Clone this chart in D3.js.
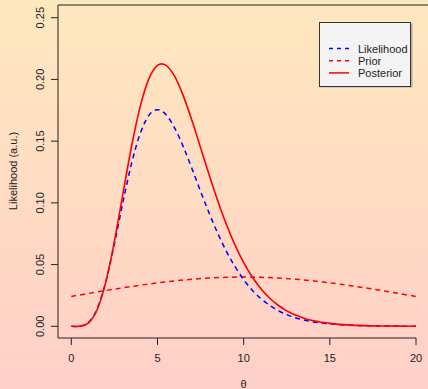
<!DOCTYPE html>
<html><head><meta charset="utf-8">
<script src="https://cdn.jsdelivr.net/npm/d3@7"></script>
<style>html,body{margin:0;padding:0;overflow:hidden;}svg{display:block;}</style>
</head><body>
<script>
const theta = [0,0.5,1,1.5,2,2.5,3,3.5,4,4.5,5,5.5,6,6.5,7,7.5,8,8.5,9,9.5,10,10.5,11,11.5,12,12.5,13,13.5,14,14.5,15,16,17,18,19,20];
const likelihood = [0,0.00016,0.00307,0.01412,0.03609,0.06680,0.10082,0.13217,0.15629,0.17083,0.17547,0.17140,0.16062,0.14537,0.12772,0.10937,0.09160,0.07523,0.06073,0.04827,0.03783,0.02929,0.02242,0.01698,0.01274,0.00948,0.00699,0.00512,0.00373,0.00269,0.00194,0.00098,0.00049,0.00024,0.00012,0.00006];
const priorTheta = [0,1,2,3,4,5,6,7,8,9,10,11,12,13,14,15,16,17,18,19,20];
const prior = [0.02420,0.02661,0.02897,0.03123,0.03332,0.03521,0.03683,0.03814,0.03910,0.03970,0.03989,0.03970,0.03910,0.03814,0.03683,0.03521,0.03332,0.03123,0.02897,0.02661,0.02420];
const posterior = [0,0.00014,0.00279,0.01343,0.03577,0.06883,0.10771,0.14605,0.17819,0.20045,0.21137,0.21143,0.20239,0.18664,0.16667,0.14470,0.12256,0.10154,0.08248,0.06581,0.05164,0.03993,0.03045,0.02292,0.01705,0.01254,0.00912,0.00657,0.00470,0.00332,0.00234,0.00112,0.00052,0.00024,0.00011,0.00005];
const xTicks = [0,5,10,15,20];
const yTicks = [0,0.05,0.10,0.15,0.20,0.25];
const legendLabels = ["Likelihood","Prior","Posterior"];

const W = 428, H = 389;
const svg = d3.select("body").append("svg").attr("width", W).attr("height", H)
  .style("font-family", "'Liberation Sans', Arial, sans-serif");
const defs = svg.append("defs");
const grad = defs.append("linearGradient").attr("id","bg").attr("x1",0).attr("y1",0).attr("x2",0).attr("y2",1);
grad.append("stop").attr("offset","0%").attr("stop-color","#FEE8BE");
grad.append("stop").attr("offset","100%").attr("stop-color","#FFCFC8");
svg.append("rect").attr("width",W).attr("height",H).attr("fill","url(#bg)");

const x = d3.scaleLinear().domain([0,20]).range([71.3,416]);
const y = d3.scaleLinear().domain([0,0.25]).range([326.3,17.7]);
const pLeft = 58, pTop = 5, pBottom = 338;

// frame lines
svg.append("line").attr("x1",pLeft).attr("x2",pLeft).attr("y1",pTop).attr("y2",pBottom).attr("stroke","#222").attr("stroke-width",1);
svg.append("line").attr("x1",pLeft).attr("x2",W).attr("y1",pTop).attr("y2",pTop).attr("stroke","#222").attr("stroke-width",1);
svg.append("line").attr("x1",pLeft).attr("x2",x(20)).attr("y1",pBottom).attr("y2",pBottom).attr("stroke","#222").attr("stroke-width",1);

// x ticks
const gx = svg.append("g");
xTicks.forEach(t => {
  gx.append("line").attr("x1",x(t)).attr("x2",x(t)).attr("y1",pBottom).attr("y2",pBottom+7).attr("stroke","#222");
  gx.append("text").attr("x",x(t)).attr("y",362).attr("text-anchor","middle").attr("font-size",11).attr("fill","#222").text(t);
});
// y ticks
const gy = svg.append("g");
yTicks.forEach(t => {
  gy.append("line").attr("x1",pLeft-7).attr("x2",pLeft).attr("y1",y(t)).attr("y2",y(t)).attr("stroke","#222");
  gy.append("text").attr("transform",`translate(44,${y(t)}) rotate(-90)`).attr("text-anchor","middle")
    .attr("font-size",11).attr("fill","#222").text(t.toFixed(2));
});
svg.append("text").attr("transform","translate(17,171) rotate(-90)").attr("text-anchor","middle")
  .attr("font-size",11).attr("fill","#222").text("Likelihood (a.u.)");
svg.append("text").attr("x",x(10)).attr("y",388).attr("text-anchor","middle").attr("font-size",11).attr("fill","#222").text("θ");

const line = d3.line().x(d=>x(d[0])).y(d=>y(d[1])).curve(d3.curveCardinal.tension(0));
svg.append("path").attr("d", line(priorTheta.map((t,i)=>[t,prior[i]]))).attr("fill","none")
  .attr("stroke","#FF0000").attr("stroke-width",1.5).attr("stroke-dasharray","5,4");
svg.append("path").attr("d", line(theta.map((t,i)=>[t,likelihood[i]]))).attr("fill","none")
  .attr("stroke","#0000FF").attr("stroke-width",1.5).attr("stroke-dasharray","5,4");
svg.append("path").attr("d", line(theta.map((t,i)=>[t,posterior[i]]))).attr("fill","none")
  .attr("stroke","#FF0000").attr("stroke-width",1.6);

// legend
const lg = svg.append("g");
lg.append("rect").attr("x",320.5).attr("y",23.5).attr("width",92).attr("height",64).attr("fill","#888").attr("opacity",0.6);
lg.append("rect").attr("x",319.5).attr("y",22.5).attr("width",91).attr("height",64).attr("fill","#F3F3F3").attr("stroke","#333").attr("stroke-width",1);
const styles = [{c:"#0000FF",d:"5,4"},{c:"#FF0000",d:"5,4"},{c:"#FF0000",d:null}];
legendLabels.forEach((lab,i)=>{
  const yy = 48.5 + i*12.2;
  const l = lg.append("line").attr("x1",329).attr("x2",349).attr("y1",yy).attr("y2",yy)
    .attr("stroke",styles[i].c).attr("stroke-width",1.5);
  if (styles[i].d) l.attr("stroke-dasharray","4,4");
  lg.append("text").attr("x",358).attr("y",yy+4).attr("font-size",11).attr("fill","#222").text(lab);
});
</script>
</body></html>
